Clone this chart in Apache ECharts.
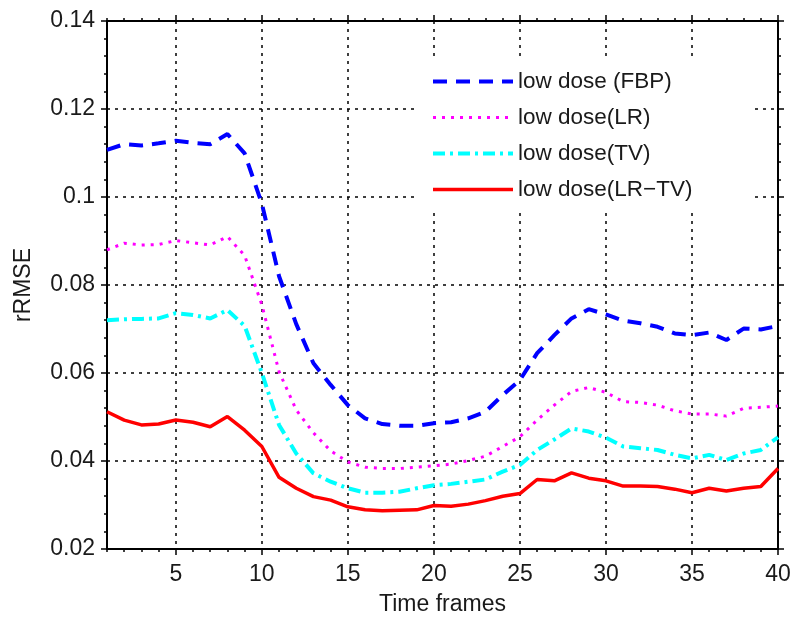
<!DOCTYPE html>
<html>
<head>
<meta charset="utf-8">
<style>
html,body{margin:0;padding:0;background:#fff;}
#chart{width:800px;height:627px;}
</style>
<script src="https://cdn.jsdelivr.net/npm/echarts@6/dist/echarts.min.js"></script>
</head>
<body>
<div id="chart"></div>
<script>
var frames = [1,2,3,4,5,6,7,8,9,10,11,12,13,14,15,16,17,18,19,20,21,22,23,24,25,26,27,28,29,30,31,32,33,34,35,36,37,38,39,40];
var xMajorTicks = [5,10,15,20,25,30,35,40];
var fbp = [0.1107,0.1120,0.1117,0.1122,0.1128,0.1123,0.1120,0.1143,0.1099,0.0985,0.0820,0.0711,0.0622,0.0573,0.0527,0.0497,0.0484,0.0480,0.0480,0.0486,0.0488,0.0497,0.0512,0.0550,0.0584,0.0645,0.0686,0.0724,0.0745,0.0733,0.0719,0.0713,0.0705,0.0690,0.0686,0.0692,0.0675,0.0701,0.0699,0.0707];
var lr = [0.0880,0.0895,0.0891,0.0892,0.0901,0.0896,0.0891,0.0910,0.0867,0.0755,0.0603,0.0516,0.0464,0.0423,0.0398,0.0386,0.0383,0.0383,0.0386,0.0389,0.0393,0.0401,0.0411,0.0433,0.0455,0.0493,0.0527,0.0558,0.0567,0.0556,0.0535,0.0533,0.0527,0.0514,0.0507,0.0507,0.0502,0.0520,0.0522,0.0525];
var tv = [0.0720,0.0722,0.0723,0.0724,0.0736,0.0732,0.0724,0.0743,0.0707,0.0600,0.0482,0.0417,0.0372,0.0353,0.0338,0.0328,0.0328,0.0330,0.0338,0.0345,0.0348,0.0353,0.0358,0.0376,0.0391,0.0425,0.0449,0.0474,0.0467,0.0453,0.0433,0.0429,0.0425,0.0414,0.0406,0.0414,0.0402,0.0417,0.0425,0.0454];
var lrtv = [0.0512,0.0493,0.0482,0.0484,0.0493,0.0488,0.0478,0.0501,0.0470,0.0433,0.0363,0.0338,0.0319,0.0311,0.0296,0.0289,0.0287,0.0288,0.0289,0.0299,0.0297,0.0302,0.0310,0.0320,0.0326,0.0358,0.0355,0.0373,0.0361,0.0355,0.0343,0.0343,0.0342,0.0336,0.0328,0.0338,0.0332,0.0338,0.0342,0.0383];
var seriesNames = ['low dose (FBP)','low dose(LR)','low dose(TV)','low dose(LR\u2212TV)'];

function pairs(arr){ return frames.map(function(f,i){ return [f, arr[i]]; }); }

var FONT = '"Liberation Sans", Arial, sans-serif';
var TXT = '#1a1a1a';
var gridDash = {color:'#000', width:1.5, type:[3,5]};

var chart = echarts.init(document.getElementById('chart'), null, {renderer:'canvas'});
chart.setOption({
  animation:false,
  backgroundColor:'#fff',
  grid:{left:107, right:22, top:21, bottom:78, outerBoundsMode:'none'},
  legend:{
    orient:'vertical', left:416, top:58, itemWidth:80, itemHeight:14, itemGap:13,
    padding:[12, 58, 12, 15],
    backgroundColor:'#ffffff',
    data:seriesNames,
    textStyle:{fontFamily:FONT, fontSize:22.5, color:TXT},
    itemStyle:{opacity:0},
    lineStyle:{width:'inherit'}
  },
  xAxis:[
    {type:'value', min:1, max:40, interval:1, position:'bottom',
     axisLine:{show:true, onZero:false, lineStyle:{color:'#000', width:2}},
     axisTick:{show:true, length:3, lineStyle:{color:'#000', width:1.5}},
     axisLabel:{fontFamily:FONT, fontSize:23, color:TXT, margin:14,
       formatter:function(v){ return (v % 5 === 0) ? String(v) : ''; }},
     splitLine:{show:false},
     name:'Time frames', nameLocation:'middle', nameGap:44,
     nameTextStyle:{fontFamily:FONT, fontSize:23, color:TXT}},
    {type:'value', min:1, max:40, position:'bottom',
     axisLine:{show:false},
     axisTick:{show:true, length:6, customValues:xMajorTicks, lineStyle:{color:'#000', width:1.5}},
     axisLabel:{show:false},
     splitLine:{show:true, lineStyle:gridDash}},
    {type:'value', min:1, max:40, interval:1, position:'top',
     axisLine:{show:true, onZero:false, lineStyle:{color:'#000', width:2}},
     axisTick:{show:true, length:3, lineStyle:{color:'#000', width:1.5}},
     axisLabel:{show:false}, splitLine:{show:false}},
    {type:'value', min:1, max:40, position:'top',
     axisLine:{show:false},
     axisTick:{show:true, length:6, customValues:xMajorTicks, lineStyle:{color:'#000', width:1.5}},
     axisLabel:{show:false}, splitLine:{show:false}}
  ],
  yAxis:[
    {type:'value', min:0.02, max:0.14, interval:0.02, position:'left',
     axisLine:{show:true, onZero:false, lineStyle:{color:'#000', width:2}},
     axisTick:{show:true, length:6, lineStyle:{color:'#000', width:1.5}},
     minorTick:{show:true, splitNumber:5, length:3, lineStyle:{color:'#000', width:1.5}},
     axisLabel:{fontFamily:FONT, fontSize:23, color:TXT, margin:12,
       formatter:function(v){ return String(parseFloat(v.toFixed(4))); }},
     splitLine:{show:true, lineStyle:gridDash},
     name:'rRMSE', nameLocation:'middle', nameGap:72, nameRotate:90,
     nameTextStyle:{fontFamily:FONT, fontSize:23, color:TXT}},
    {type:'value', min:0.02, max:0.14, interval:0.02, position:'right',
     axisLine:{show:true, onZero:false, lineStyle:{color:'#000', width:2}},
     axisTick:{show:true, length:6, lineStyle:{color:'#000', width:1.5}},
     minorTick:{show:true, splitNumber:5, length:3, lineStyle:{color:'#000', width:1.5}},
     axisLabel:{show:false}, splitLine:{show:false}}
  ],
  series:[
    {name:seriesNames[0], type:'line', data:pairs(fbp), xAxisIndex:0, yAxisIndex:0,
     symbol:'none', showSymbol:false, color:'#0000ff',
     lineStyle:{color:'#0000ff', width:4, type:[14,9]}, z:5},
    {name:seriesNames[1], type:'line', data:pairs(lr), xAxisIndex:0, yAxisIndex:0,
     symbol:'none', showSymbol:false, color:'#ff00ff',
     lineStyle:{color:'#ff00ff', width:3, type:[3,6]}, z:5},
    {name:seriesNames[2], type:'line', data:pairs(tv), xAxisIndex:0, yAxisIndex:0,
     symbol:'none', showSymbol:false, color:'#00ffff',
     lineStyle:{color:'#00ffff', width:4, type:[12,5,3,5]}, z:5},
    {name:seriesNames[3], type:'line', data:pairs(lrtv), xAxisIndex:0, yAxisIndex:0,
     symbol:'none', showSymbol:false, color:'#ff0000',
     lineStyle:{color:'#ff0000', width:3.5}, z:5}
  ]
});
</script>
</body>
</html>
